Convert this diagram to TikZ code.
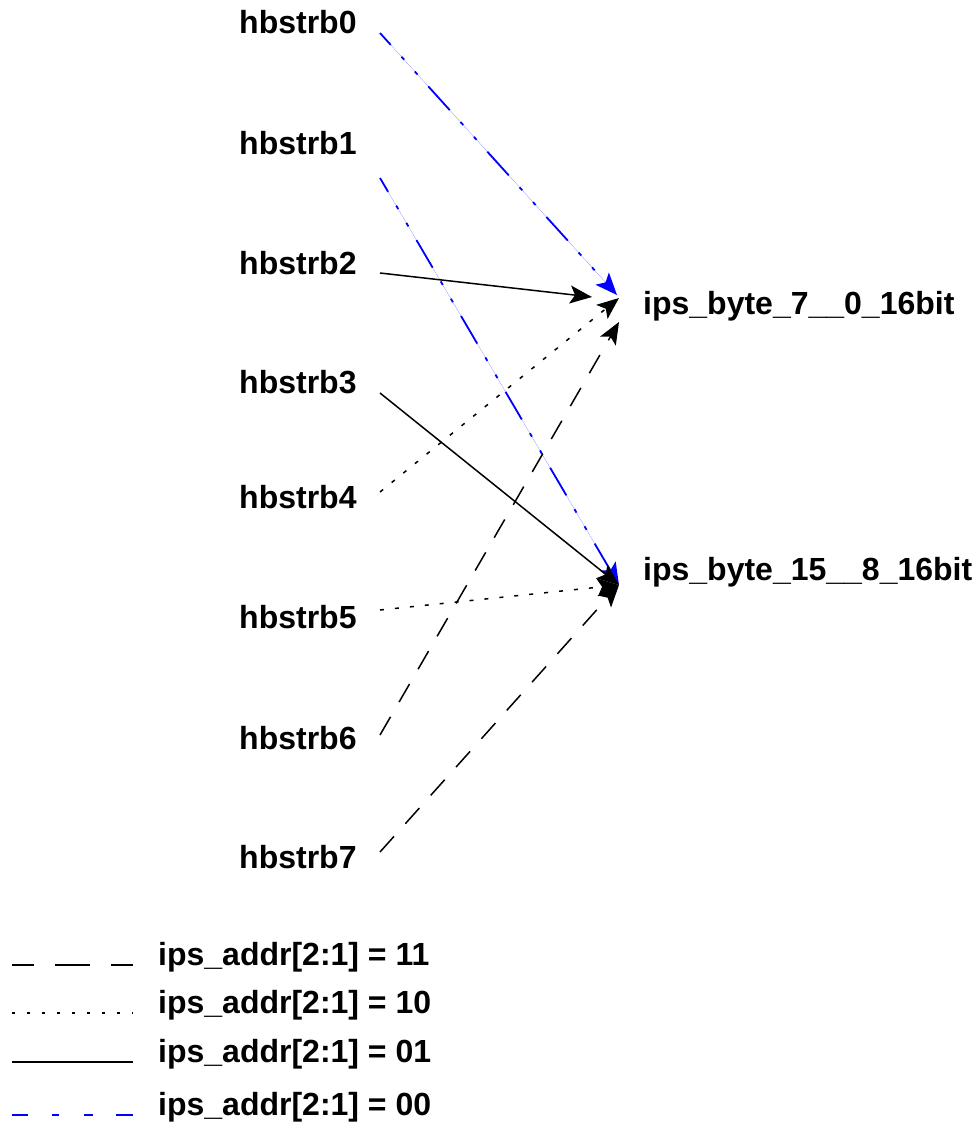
\documentclass[tikz,border=0pt]{standalone}
\usepackage{fontspec}
\setmainfont{Liberation Sans}
\usetikzlibrary{arrows.meta}
\definecolor{fblue}{RGB}{0,0,255}
\begin{document}
\begin{tikzpicture}[x=1pt,y=-1pt,
  lbl/.style={anchor=base west,inner sep=0pt,font=\fontsize{32}{36}\selectfont\bfseries},
  conn/.style={line width=1.5pt,-{Stealth[length=22pt,width=18pt,inset=5pt]}},
  bluedd/.style={conn,draw=fblue,fill=fblue,line width=1.8pt,dash pattern=on 32pt off 16pt on 4pt off 16pt on 4pt off 16pt,dash phase=16pt},
  blackdash/.style={conn,dash pattern=on 21pt off 17pt},
  blackdot/.style={conn,dash pattern=on 4pt off 11pt},
  blacksolid/.style={conn},
  leg/.style={line width=2pt}]
\useasboundingbox[fill=white] (0,0) rectangle (978,1125);
% source labels
\node[lbl] (h0) at (239,33) {hbstrb0};
\node[lbl] (h1) at (239,154) {hbstrb1};
\node[lbl] (h2) at (239,274) {hbstrb2};
\node[lbl] (h3) at (239,393) {hbstrb3};
\node[lbl] (h4) at (239,508) {hbstrb4};
\node[lbl] (h5) at (239,628) {hbstrb5};
\node[lbl] (h6) at (239,749) {hbstrb6};
\node[lbl] (h7) at (239,868) {hbstrb7};
% target labels
\node[lbl] (t0) at (643,314) {ips\_byte\_7\_\_0\_16bit};
\node[lbl] (t1) at (643,580) {ips\_byte\_15\_\_8\_16bit};
% connector end points
\coordinate (s0) at (380,33);
\coordinate (s1) at (380,178);
\coordinate (s2) at (380,273);
\coordinate (s3) at (380,393);
\coordinate (s4) at (380,492);
\coordinate (s5) at (380,610);
\coordinate (s6) at (380,735);
\coordinate (s7) at (380,852);
\coordinate (e0) at (617,295);
\coordinate (e2) at (592,297);
\coordinate (e4) at (619,298);
\coordinate (e6) at (619,322);
\coordinate (e1) at (619,585);
\coordinate (e3) at (619,585);
\coordinate (e5) at (619,585);
\coordinate (e7) at (619,585);
% connectors
\draw[bluedd] (s0) -- (e0);
\draw[bluedd] (s1) -- (e1);
\draw[blacksolid] (s2) -- (e2);
\draw[blacksolid] (s3) -- (e3);
\draw[blackdot] (s4) -- (e4);
\draw[blackdot] (s5) -- (e5);
\draw[blackdash] (s6) -- (e6);
\draw[blackdash] (s7) -- (e7);
% legend
\coordinate (la1) at (12,965);  \coordinate (lb1) at (133,965);
\coordinate (la2) at (12,1013); \coordinate (lb2) at (133,1013);
\coordinate (la3) at (12,1062); \coordinate (lb3) at (133,1062);
\coordinate (la4) at (12,1115); \coordinate (lb4) at (133,1115);
\draw[leg,dash pattern=on 22pt off 21pt on 35pt off 21pt on 30pt] (la1) -- (lb1);
\draw[leg,line width=1.6pt,dash pattern=on 3pt off 12pt] (la2) -- (lb2);
\draw[leg] (la3) -- (lb3);
\draw[leg,draw=fblue,dash pattern=on 16pt off 24pt on 7pt off 25pt on 9pt off 23pt on 30pt] (la4) -- (lb4);
\node[lbl] (l1) at (158,965) {ips\_addr[2:1] = 11};
\node[lbl] (l2) at (158,1013) {ips\_addr[2:1] = 10};
\node[lbl] (l3) at (158,1062) {ips\_addr[2:1] = 01};
\node[lbl] (l4) at (158,1115) {ips\_addr[2:1] = 00};
\end{tikzpicture}
\end{document}
